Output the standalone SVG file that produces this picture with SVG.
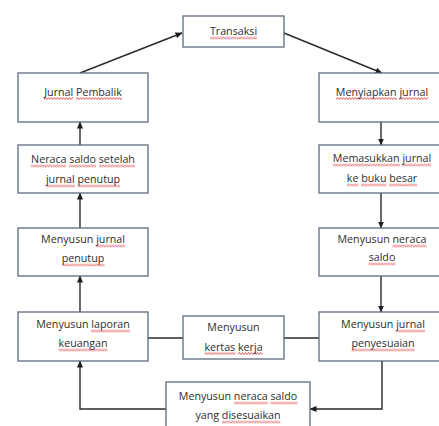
<svg xmlns="http://www.w3.org/2000/svg" width="439" height="426" viewBox="0 0 439 426">
<defs>
<marker id="ah" markerWidth="7" markerHeight="6" refX="6.5" refY="3" orient="auto" markerUnits="userSpaceOnUse">
<path d="M0,0 L7,3 L0,6 Z" fill="#1e1e1e"/>
</marker>
<pattern id="sq" width="3" height="3" patternUnits="userSpaceOnUse">
<path d="M-1.5,0.5 L0,2.5 L1.5,0.5 L3,2.5 L4.5,0.5" fill="none" stroke="#e03434" stroke-width="0.8"/>
</pattern>
</defs>
<style>
.box{fill:#ffffff;stroke:#5f6a80;stroke-width:1.3}
.t{font-family:"Open Sans","Liberation Sans",sans-serif;font-size:10.7px;fill:#2e2e2e;text-anchor:middle}
.c{fill:none;stroke:#2a2a2a;stroke-width:1.4}
.w{fill:url(#sq)}
</style>
<rect width="439" height="426" fill="#ffffff"/>
<g id="connectors">
<path class="c" d="M80,73 L182,33" marker-end="url(#ah)"/>
<path class="c" d="M284,33 L382,73" marker-end="url(#ah)"/>
<path class="c" d="M381,122 L381,145" marker-end="url(#ah)"/>
<path class="c" d="M381,193 L381,228" marker-end="url(#ah)"/>
<path class="c" d="M381,276 L381,312" marker-end="url(#ah)"/>
<path class="c" d="M382,361 L382,409 L310,409" marker-end="url(#ah)"/>
<path class="c" d="M166,409 L80,409 L80,361" marker-end="url(#ah)"/>
<path class="c" d="M80,312 L80,276" marker-end="url(#ah)"/>
<path class="c" d="M80,228 L80,193" marker-end="url(#ah)"/>
<path class="c" d="M80,145 L80,122" marker-end="url(#ah)"/>
<path class="c" d="M148,338 L183,338"/>
<path class="c" d="M284,338 L319,338"/>
</g>
<g id="transaksi">
<rect class="box" x="183" y="16" width="101" height="31"/>
<rect class="w" transform="translate(210,36.5)" width="47" height="3"/>
<text class="t" x="233.5" y="35"><tspan>Transaksi</tspan></text>
</g>
<g id="jurnal-pembalik">
<rect class="box" x="18" y="73" width="130" height="49"/>
<rect class="w" transform="translate(44,97)" width="29" height="3"/>
<rect class="w" transform="translate(76,97)" width="46" height="3"/>
<text class="t" x="83" y="95.5"><tspan>Jurnal</tspan> <tspan>Pembalik</tspan></text>
</g>
<g id="menyiapkan-jurnal">
<rect class="box" x="319" y="73" width="128" height="49"/>
<rect class="w" transform="translate(336,97)" width="61" height="3"/>
<rect class="w" transform="translate(399,97)" width="29" height="3"/>
<text class="t" x="382" y="95.5"><tspan>Menyiapkan</tspan> <tspan>jurnal</tspan></text>
</g>
<g id="neraca-setelah-penutup">
<rect class="box" x="18" y="145" width="130" height="48"/>
<rect class="w" transform="translate(31,164.5)" width="35" height="3"/>
<rect class="w" transform="translate(69,164.5)" width="27" height="3"/>
<rect class="w" transform="translate(99,164.5)" width="36" height="3"/>
<rect class="w" transform="translate(46,184.5)" width="29" height="3"/>
<rect class="w" transform="translate(77.5,184.5)" width="42.5" height="3"/>
<text class="t" x="83" y="163"><tspan>Neraca</tspan> <tspan>saldo</tspan> <tspan>setelah</tspan></text>
<text class="t" x="83" y="183"><tspan>jurnal</tspan> <tspan>penutup</tspan></text>
</g>
<g id="memasukkan-jurnal">
<rect class="box" x="319" y="145" width="128" height="48"/>
<rect class="w" transform="translate(333,163.5)" width="67" height="3"/>
<rect class="w" transform="translate(402,163.5)" width="29" height="3"/>
<rect class="w" transform="translate(347,183.5)" width="11.5" height="3"/>
<rect class="w" transform="translate(361,183.5)" width="25.5" height="3"/>
<rect class="w" transform="translate(389,183.5)" width="28" height="3"/>
<text class="t" x="382" y="162"><tspan>Memasukkan</tspan> <tspan>jurnal</tspan></text>
<text class="t" x="382" y="182"><tspan>ke</tspan> <tspan>buku</tspan> <tspan>besar</tspan></text>
</g>
<g id="jurnal-penutup">
<rect class="box" x="18" y="228" width="130" height="48"/>
<rect class="w" transform="translate(96,244.5)" width="29" height="3"/>
<rect class="w" transform="translate(62,263.5)" width="42.5" height="3"/>
<text class="t" x="83" y="243"><tspan>Menyusun</tspan> <tspan>jurnal</tspan></text>
<text class="t" x="83" y="262"><tspan>penutup</tspan></text>
</g>
<g id="neraca-saldo">
<rect class="box" x="319" y="228" width="128" height="48"/>
<rect class="w" transform="translate(392.5,244.5)" width="34" height="3"/>
<rect class="w" transform="translate(368.5,262.5)" width="27" height="3"/>
<text class="t" x="382" y="243"><tspan>Menyusun</tspan> <tspan>neraca</tspan></text>
<text class="t" x="382" y="261"><tspan>saldo</tspan></text>
</g>
<g id="laporan-keuangan">
<rect class="box" x="18" y="312" width="130" height="49"/>
<rect class="w" transform="translate(91,329.5)" width="39" height="3"/>
<rect class="w" transform="translate(58.5,348.5)" width="49" height="3"/>
<text class="t" x="83" y="328"><tspan>Menyusun</tspan> <tspan>laporan</tspan></text>
<text class="t" x="83" y="347"><tspan>keuangan</tspan></text>
</g>
<g id="kertas-kerja">
<rect class="box" x="183" y="316" width="101" height="43"/>
<rect class="w" transform="translate(204.5,352)" width="31" height="3"/>
<rect class="w" transform="translate(238,352)" width="24.5" height="3"/>
<text class="t" x="233.5" y="330.5"><tspan>Menyusun</tspan></text>
<text class="t" x="233.5" y="350.5"><tspan>kertas</tspan> <tspan>kerja</tspan></text>
</g>
<g id="jurnal-penyesuaian">
<rect class="box" x="319" y="312" width="128" height="49"/>
<rect class="w" transform="translate(396,329.5)" width="29" height="3"/>
<rect class="w" transform="translate(351.5,348.5)" width="63" height="3"/>
<text class="t" x="383" y="328"><tspan>Menyusun</tspan> <tspan>jurnal</tspan></text>
<text class="t" x="383" y="347"><tspan>penyesuaian</tspan></text>
</g>
<g id="neraca-disesuaikan">
<rect class="box" x="166" y="382" width="144" height="50"/>
<rect class="w" transform="translate(234,401.5)" width="34" height="3"/>
<rect class="w" transform="translate(270.5,401.5)" width="27" height="3"/>
<rect class="w" transform="translate(222,420.5)" width="58.5" height="3"/>
<text class="t" x="238" y="400"><tspan>Menyusun</tspan> <tspan>neraca</tspan> <tspan>saldo</tspan></text>
<text class="t" x="238" y="419"><tspan>yang</tspan> <tspan>disesuaikan</tspan></text>
</g>
</svg>
